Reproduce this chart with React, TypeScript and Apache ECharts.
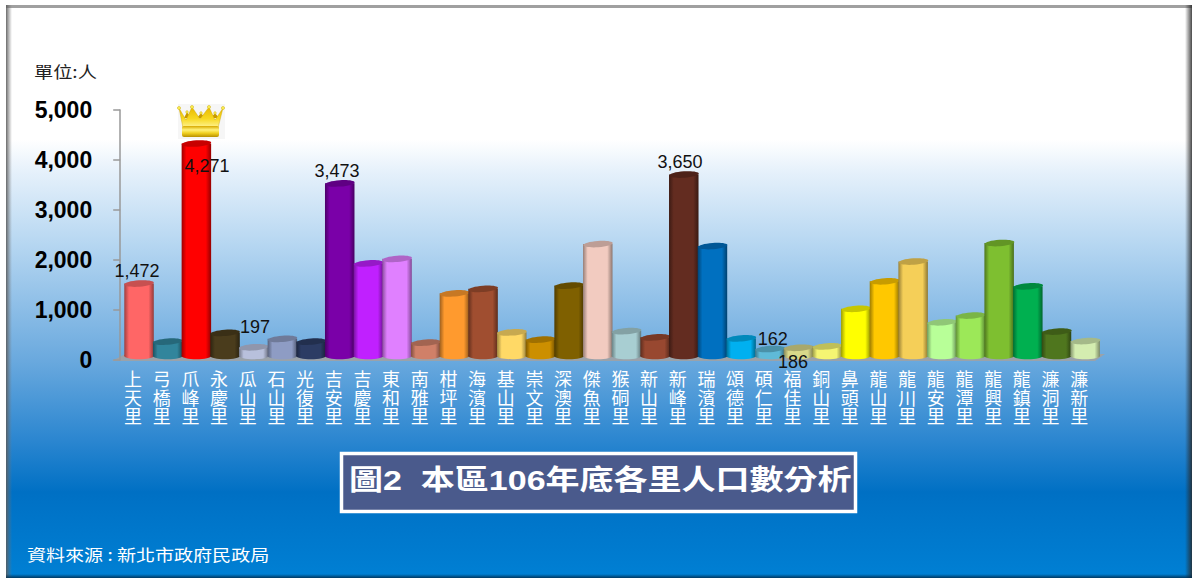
import React, { useEffect, useRef } from "react";
import * as echarts from "echarts";

const categories = ["上天里","弓橋里","爪峰里","永慶里","瓜山里","石山里","光復里","吉安里","吉慶里","東和里","南雅里","柑坪里","海濱里","基山里","崇文里","深澳里","傑魚里","猴硐里","新山里","新峰里","瑞濱里","頌德里","碩仁里","福佳里","銅山里","鼻頭里","龍山里","龍川里","龍安里","龍潭里","龍興里","龍鎮里","濂洞里","濂新里"];
const population = [1472,310,4271,485,197,365,310,3473,1875,1965,290,1275,1365,495,350,1430,2260,520,395,3650,2220,375,162,186,215,965,1515,1910,695,830,2280,1415,510,320];
const barColors = ["#FF6666","#31859C","#FF0000","#4A3C1C","#B8C0DC","#8E9CC4","#2C3C64","#7A00A8","#C020FF","#E080FF","#D08068","#FF9A2E","#A04E30","#FFD966","#CC8F00","#7F6000","#F2CBC0","#A8CED2","#984830","#632C20","#0070C0","#00B0F0","#5FBAD8","#D8D88A","#F5F572","#FFFF00","#FFC800","#F5CF58","#B8FF98","#9CE858","#7EBF30","#00B050","#4F761E","#D4EDB0"];
const valueTicks = [0, 1000, 2000, 3000, 4000, 5000];
const shownLabels: Record<number, [number, number]> = { 0: [-2, -15.4], 2: [10.6, 20], 4: [1.3, -23.5], 7: [-2.7, -15.6], 19: [-3.7, -15.5], 22: [3, -13], 23: [-5.4, 11.3] };

const GRID = { left: 118.7, top: 110, width: 974.8, height: 250 };
const BAR_SHIFT = 6;
const TOP_LIFT = 3;

function shade(hex: string, f: number) {
  const n = parseInt(hex.slice(1), 16);
  const ch = (s: number) => Math.round(((n >> s) & 255) * f);
  return `rgb(${ch(16)},${ch(8)},${ch(0)})`;
}

echarts.graphic.registerShape("crownBody", echarts.graphic.extendPath("M1 4 L8 16 L14 3 L22 15 L31 3 L37 16 L45 4 L40 24 L5 24 Z", {}));
echarts.graphic.registerShape("crownBack", echarts.graphic.extendPath("M6 14 L9 8 L13 14 Z M19 14 L23 9 L27 14 Z M33 14 L37 9 L41 14 Z", {}));

const gold = () => new echarts.graphic.LinearGradient(0, 0, 0, 1, [{ offset: 0, color: "#e8b800" }, { offset: 0.55, color: "#f7d820" }, { offset: 1, color: "#fff59a" }]);
const tip = (x: number, y: number, r: number) => ({ type: "circle", z: 4, silent: true, shape: { cx: x, cy: y, r }, style: { fill: "#f8ec50", stroke: "#c8a000", lineWidth: 0.4 } });

export default function App() {
  const ref = useRef<HTMLDivElement>(null);
  useEffect(() => {
    const chart = echarts.init(ref.current!, undefined, { renderer: "svg" });
    chart.setOption({
      animation: false,
      backgroundColor: "#ffffff",
      grid: { ...GRID },
      graphic: [
        { type: "rect", z: -9, silent: true, shape: { x: 6, y: 5, width: 1186, height: 573 },
          style: { fill: new echarts.graphic.LinearGradient(0, 0, 0, 1, [
            { offset: 0, color: "#ffffff" }, { offset: 0.235, color: "#ffffff" }, { offset: 0.29, color: "#e6f1fb" },
            { offset: 0.42, color: "#b5d6f1" }, { offset: 0.62, color: "#6aa9de" }, { offset: 0.76, color: "#2b86d0" },
            { offset: 0.85, color: "#0070c4" }, { offset: 1, color: "#0080d4" } ]) } },
        { type: "rect", z: -8, silent: true, shape: { x: 6, y: 5, width: 1186, height: 3 }, style: { fill: "#a0a0a0" } },
        { type: "rect", z: -8, silent: true, shape: { x: 6, y: 5, width: 6, height: 573 },
          style: { fill: new echarts.graphic.LinearGradient(0, 0, 1, 0, [{ offset: 0, color: "rgba(90,90,90,0.9)" }, { offset: 1, color: "rgba(120,120,120,0)" }]) } },
        { type: "rect", z: -8, silent: true, shape: { x: 1185, y: 5, width: 7, height: 573 },
          style: { fill: new echarts.graphic.LinearGradient(0, 0, 1, 0, [{ offset: 0, color: "rgba(40,40,40,0)" }, { offset: 1, color: "rgba(40,40,40,0.85)" }]) } },
        { type: "rect", z: -8, silent: true, shape: { x: 6, y: 574, width: 1186, height: 4 },
          style: { fill: new echarts.graphic.LinearGradient(0, 0, 0, 1, [{ offset: 0, color: "rgba(0,40,70,0)" }, { offset: 1, color: "rgba(0,40,70,0.8)" }]) } },
        { type: "polygon", z: 0, silent: true, shape: { points: [[112, 361], [1095, 361], [1105, 354], [125, 354]] }, style: { fill: "#9aa2aa" } },
        { type: "rect", z: 1, silent: true, shape: { x: 178, y: 104, width: 47, height: 35 }, style: { fill: "#f6f6f6" } },
        { type: "crownBack", z: 2, silent: true, x: 178, y: 104, style: { fill: "#c89a00" } },
        { type: "crownBody", z: 3, silent: true, x: 178, y: 104, style: { fill: gold(), stroke: "#c8a000", lineWidth: 0.4 } },
        tip(179, 108, 1.6), tip(192, 107, 1.6), tip(209, 107, 1.6), tip(223, 108, 1.6), tip(187, 112, 1.3), tip(201, 113, 1.3), tip(215, 113, 1.3),
        { type: "rect", z: 4, silent: true, shape: { x: 182, y: 126, width: 37, height: 11, r: 2 },
          style: { fill: new echarts.graphic.LinearGradient(0, 0, 0, 1, [{ offset: 0, color: "#d8a800" }, { offset: 0.35, color: "#fff27a" }, { offset: 0.65, color: "#f0d020" }, { offset: 1, color: "#b89000" }]) } },
        { type: "text", z: 5, x: 34, y: 63, scaleX: 1.2, style: { text: "單位:人", fill: "#222222", font: "16px 'Noto Sans CJK TC'" } },
        { type: "rect", z: 5, shape: { x: 341.5, y: 453.5, width: 514, height: 58 }, style: { fill: "#4a5a8c", stroke: "#ffffff", lineWidth: 3.5 } },
        { type: "text", z: 6, x: 349, y: 467, scaleX: 1.215, style: { text: "圖2  本區106年底各里人口數分析", fill: "#ffffff", font: "bold 28px 'Liberation Sans','Noto Sans CJK TC'" } },
        { type: "text", z: 5, x: 27, y: 546, scaleX: 1.19, style: { text: "資料來源 : 新北市政府民政局", fill: "#ffffff", font: "16px 'Noto Sans CJK TC'" } },
      ],
      xAxis: {
        type: "category", data: categories, boundaryGap: true,
        axisLine: { show: false }, axisTick: { show: false },
        axisLabel: {
          interval: 0, color: "#ffffff", margin: 9, fontSize: 18, lineHeight: 18.4,
          fontFamily: "'Noto Sans CJK TC'",
          formatter: (v: string) => v.split("").join("\n"),
        },
      },
      yAxis: {
        type: "value", min: 0, max: 5000, interval: 1000, offset: -1.5,
        splitLine: { show: false },
        axisLine: { show: true, lineStyle: { color: "#999999", width: 1.5 } },
        axisTick: { show: true, length: 7, lineStyle: { color: "#999999", width: 1.5 } },
        axisLabel: {
          margin: 28, color: "#000000", fontSize: 23, fontWeight: "bold",
          fontFamily: "'Liberation Sans', Arial, sans-serif",
          formatter: (v: number) => valueTicks.includes(v) ? v.toLocaleString("en-US") : "",
        },
      },
      series: [{
        type: "custom",
        clip: false,
        data: population.map((v, i) => [i, v]),
        encode: { x: 0, y: 1 },
        z: 3,
        renderItem: (params: any, api: any) => {
          const i = api.value(0) as number;
          const v = api.value(1) as number;
          const top = api.coord([i, v]);
          const base = api.coord([i, 0]);
          const cx = top[0] + BAR_SHIFT;
          const w = 29.5, ry = 3.2, c = barColors[i];
          const cy = top[1] - TOP_LIFT;
          const bottom = base[1] - 4;
          const x0 = cx - w / 2;
          const bodyFill = () => new echarts.graphic.LinearGradient(0, 0, 1, 0, [
            { offset: 0, color: shade(c, 0.62) }, { offset: 0.16, color: c }, { offset: 0.82, color: c }, { offset: 1, color: shade(c, 0.58) } ]);
          const children: any[] = [
            { type: "rect", shape: { x: x0, y: cy, width: w, height: Math.max(0, bottom - cy) }, style: { fill: bodyFill() } },
            { type: "ellipse", shape: { cx, cy: bottom, rx: w / 2, ry }, style: { fill: bodyFill() } },
            { type: "ellipse", rotation: 0.07, originX: cx, originY: cy, shape: { cx, cy, rx: w / 2, ry }, style: { fill: shade(c, 0.78) } },
          ];
          const off = shownLabels[i];
          if (off) {
            children.push({ type: "text", z2: 50, style: {
              x: cx + off[0], y: top[1] + off[1],
              text: v.toLocaleString("en-US"), fill: "#111111", align: "center", verticalAlign: "middle",
              font: "18px 'Liberation Sans', Arial, sans-serif" } });
          }
          return { type: "group", children };
        },
      }],
    });
    return () => chart.dispose();
  }, []);
  return <div ref={ref} style={{ position: "fixed", left: 0, top: 0, width: 1192, height: 578 }} />;
}
